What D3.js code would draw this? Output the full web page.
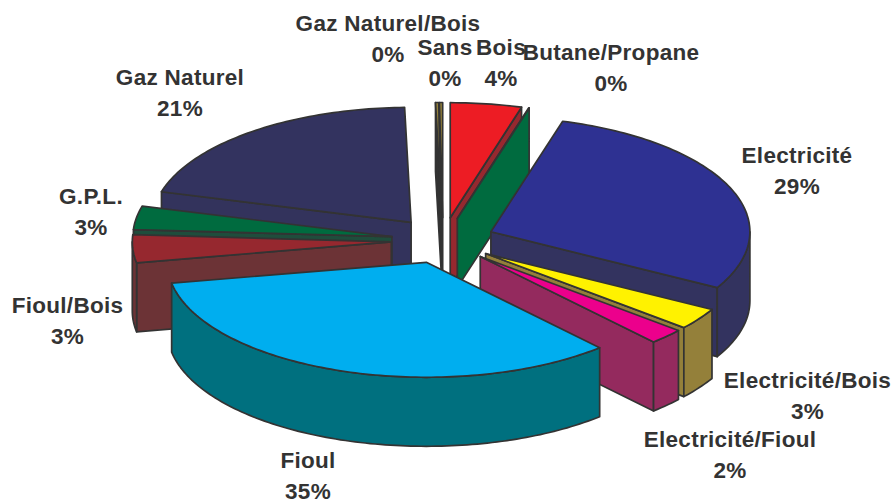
<!DOCTYPE html>
<html><head><meta charset="utf-8">
<style>html,body{margin:0;background:#fff}svg{display:block}text{font-family:"Liberation Sans",Arial,sans-serif;font-weight:700;font-size:22.5px;letter-spacing:.3px;fill:#333;text-anchor:middle}</style>
<script src="https://cdn.jsdelivr.net/npm/d3@7"></script></head><body>
<script>
const categories=["Bois","Butane/Propane","Electricité","Electricité/Bois","Electricité/Fioul","Fioul","Fioul/Bois","G.P.L.","Gaz Naturel","Gaz Naturel/Bois","Sans"];
const shares=[4.44,0.03,28.6,3.05,2.2,33.75,3.9,3.3,20.3,0.2,0.2];
const percentLabels=["4%","0%","29%","3%","2%","35%","3%","3%","21%","0%","0%"];
const topColors=["#ed1c24","#006b3f","#2e3192","#fff200","#ec008c","#00aeef","#96282f","#006b3f","#33335f","#94803a","#94803a"];
const wallColors=["#96282f","#006b3f","#33335f","#94803a","#942a5e","#00707f","#6c3336","#1f4d3c","#33335c","#333333","#333333"];
const drawOrder=[8,9,10,0,1,2,7,6,3,4,5];
const labelAnchors=[[501,55],[611,60],[797,163],[807.5,388],[730,447],[308,468],[67.5,313],[91,204],[180,85],[388,31],[445,55]];

const W=895,H=504;
const svg=d3.select("body").append("svg").attr("width",W).attr("height",H);
const cx=443,cy=240.5,rx=259,ry=115,depth=69,explode=0.2;
const sx=d3.scaleLinear().domain([-1,1]).range([-rx,rx]);
const sy=d3.scaleLinear().domain([-1,1]).range([-ry,ry]);
const arcs=d3.pie().sort(null).value(d=>d)(shares);
const line=d3.line();

function apexOf(a){const m=(a.startAngle+a.endAngle)/2;
  return [cx+explode*sx(Math.sin(m)),cy-explode*sy(Math.cos(m))];}
function rim(ap,t,dz=0){return [ap[0]+sx(Math.sin(t)),ap[1]-sy(Math.cos(t))+dz];}
function samples(a,b){const n=Math.max(2,Math.ceil((b-a)/0.02));return d3.range(n+1).map(i=>a+(b-a)*i/n);}
const g=svg.append("g").attr("stroke","#333").attr("stroke-width",1.7).attr("stroke-linejoin","round");

drawOrder.forEach(i=>{
  const a=arcs[i],ap=apexOf(a),t0=a.startAngle,t1=a.endAngle;
  const apB=[ap[0],ap[1]+depth];
  const wall=c=>g.append("path").attr("fill",c);
  if(t0>Math.PI){ wall(wallColors[i]).attr("d",line([ap,rim(ap,t0),rim(ap,t0,depth),apB])+"Z"); }
  if(t1<Math.PI){ wall(wallColors[i]).attr("d",line([ap,rim(ap,t1),rim(ap,t1,depth),apB])+"Z"); }
  const lo=Math.max(t0,Math.PI/2),hi=Math.min(t1,Math.PI*1.5);
  if(hi>lo){
    const s=samples(lo,hi);
    wall(wallColors[i]).attr("d",line(s.map(t=>rim(ap,t)).concat(s.slice().reverse().map(t=>rim(ap,t,depth))))+"Z");
  }
  g.append("path").attr("fill",topColors[i])
   .attr("d",line([ap].concat(samples(t0,t1).map(t=>rim(ap,t))))+"Z");
});

categories.forEach((c,i)=>{
  const [x,y]=labelAnchors[i];
  const t=svg.append("text").attr("x",x).attr("y",y);
  t.append("tspan").attr("x",x).text(c);
  t.append("tspan").attr("x",x).attr("dy",31).text(percentLabels[i]);
});
</script></body></html>
